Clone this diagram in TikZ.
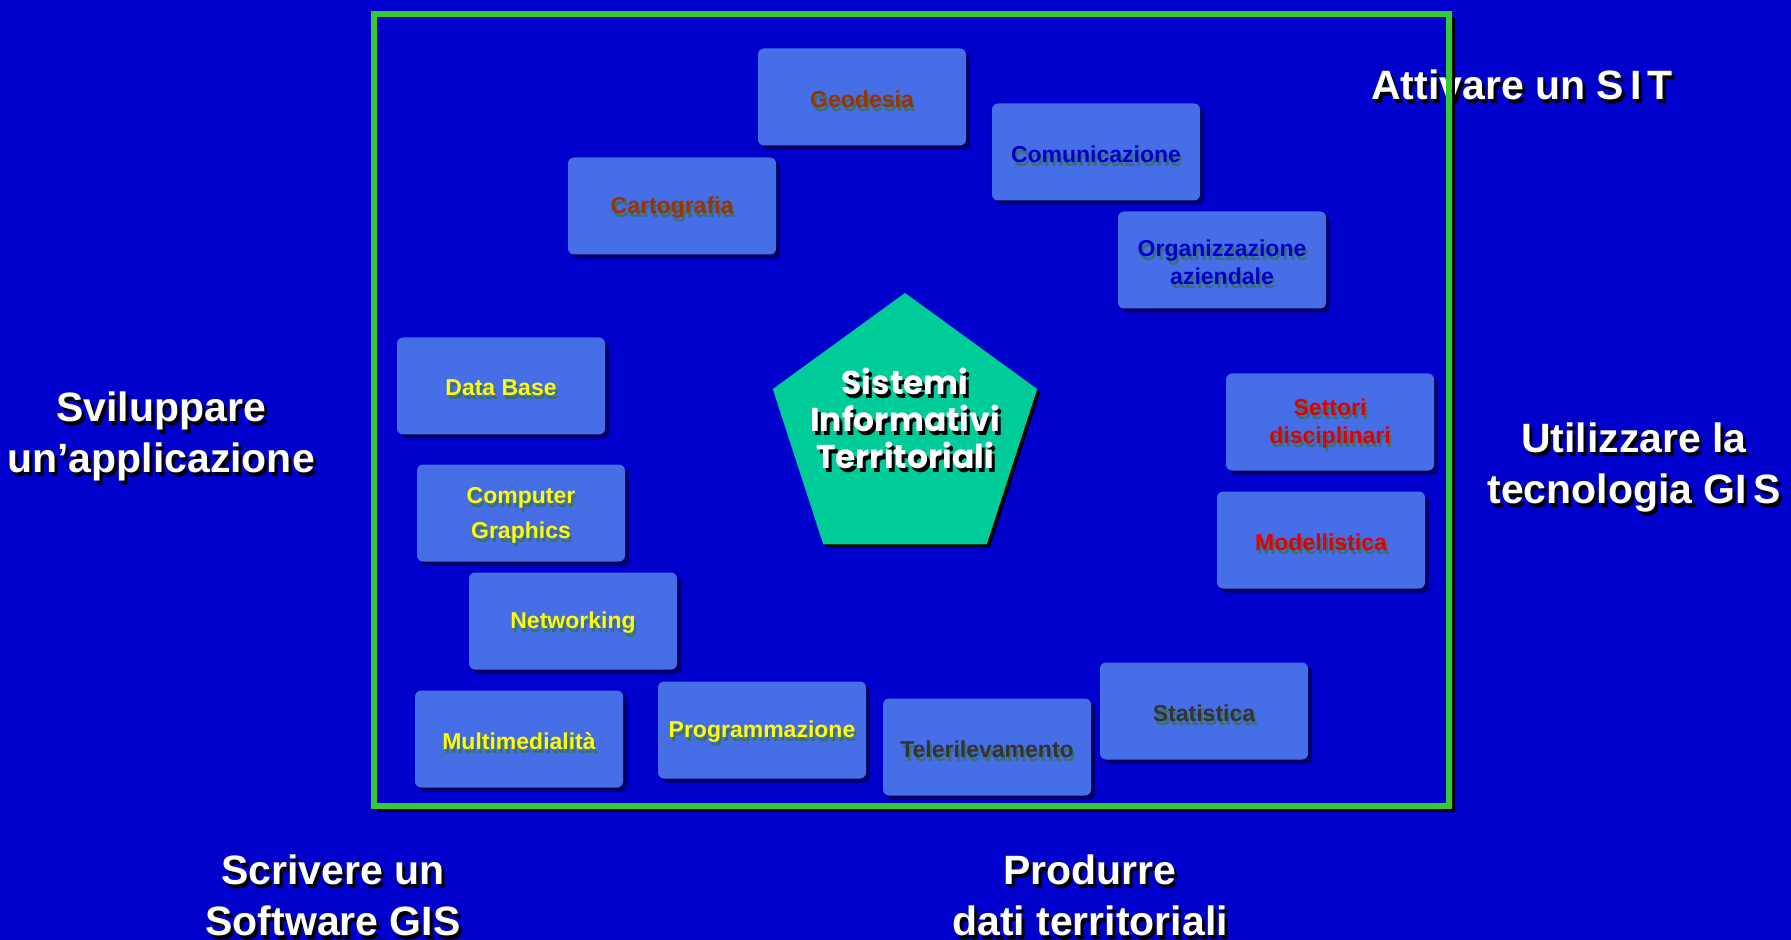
\documentclass[tikz,border=0pt]{standalone}
\usepackage{fontspec}
\setmainfont{Liberation Sans}
\newfontfamily\comicfont{Poppins}
\usepackage{tikz}
\usetikzlibrary{positioning,shapes.geometric,shadows}

\definecolor{bgblue}{RGB}{0,0,204}
\definecolor{boxblue}{RGB}{70,110,230}
\definecolor{boxshadow}{RGB}{0,0,100}
\definecolor{framegreen}{RGB}{51,204,51}
\definecolor{sitgreen}{RGB}{0,204,153}
\definecolor{txtshadow}{RGB}{60,110,110}
\definecolor{browntxt}{RGB}{153,51,0}
\definecolor{navytxt}{RGB}{0,0,200}
\definecolor{redtxt}{RGB}{225,0,0}
\definecolor{yellowtxt}{RGB}{255,255,0}
\definecolor{graytxt}{RGB}{51,51,51}

\newcommand{\boxtxt}[2]{\leavevmode\raisebox{-2pt}[\height][\depth]{\rlap{\kern1pt\raisebox{-2pt}{\textcolor{txtshadow}{#2}}}\textcolor{#1}{#2}}}
\newcommand{\bigtxt}[1]{\leavevmode\rlap{\kern1.5pt\raisebox{-2pt}{\textcolor{black}{#1}}}\textcolor{white}{#1}}

\begin{document}
\begin{tikzpicture}[x=0.5pt, y=-0.5pt,
    box/.style={rectangle, rounded corners=3pt, fill=boxblue, minimum width=104pt,
        minimum height=48.5pt, align=center, font=\fontsize{11.5}{14}\selectfont\bfseries,
        drop shadow={shadow xshift=2pt, shadow yshift=-2pt, fill=boxshadow, opacity=1}},
    outer/.style={align=center, font=\fontsize{20.5}{25.5}\selectfont\bfseries}]
    \useasboundingbox (0,0) rectangle (1791,940);
    \fill[bgblue] (0,0) rectangle (1791,940);

    \node[outer] (attiva) at (1522,87) {\bigtxt{Attivare un S\kern3pt I\kern3pt T}};
    \node[outer] (utilizza) at (1634,469) {\bigtxt{Utilizzare la}\\\bigtxt{tecnologia GI\kern3pt S}};
    \node[outer] (sviluppa) at (161,438) {\bigtxt{Sviluppare}\\\bigtxt{un’applicazione}};
    \node[outer] (scrivi) at (333,897) {\bigtxt{Scrivere un}\\\bigtxt{Software GIS}};
    \node[outer] (produci) at (1090,897) {\bigtxt{Produrre}\\\bigtxt{dati territoriali}};

    \draw[black, line width=3pt] (1452,17) -- (1452,809) -- (377,809);
    \draw[framegreen, line width=3pt] (374,14) rectangle (1449,806);

    \node[box] (geo) at (862,97) {\boxtxt{browntxt}{Geodesia}};
    \node[box] (carto) at (672,206) {\boxtxt{browntxt}{Cartografia}};
    \node[box] (comu) at (1096,152) {\boxtxt{navytxt}{Comunicazione}};
    \node[box] (org) at (1222,260) {\boxtxt{navytxt}{Organizzazione}\\\boxtxt{navytxt}{aziendale}};
    \node[box] (sett) at (1330,422) {\boxtxt{redtxt}{Settori}\\\boxtxt{redtxt}{disciplinari}};
    \node[box] (mod) at (1321,540) {\boxtxt{redtxt}{Modellistica}};
    \node[box] (db) at (501,386) {\boxtxt{yellowtxt}{Data Base}};
    \node[box] (cg) at (521,513) {\boxtxt{yellowtxt}{Computer}\\[3.5pt]\boxtxt{yellowtxt}{Graphics}};
    \node[box] (net) at (573,621) {\boxtxt{yellowtxt}{Networking}};
    \node[box] (multi) at (519,739) {\boxtxt{yellowtxt}{Multimedialità}};
    \node[box] (prog) at (762,730) {\boxtxt{yellowtxt}{Programmazione}};
    \node[box] (tele) at (987,747) {\boxtxt{graytxt}{Telerilevamento}};
    \node[box] (stat) at (1204,711) {\boxtxt{graytxt}{Statistica}};

    \node[regular polygon, regular polygon sides=5, minimum size=139pt, inner sep=0pt,
        fill=sitgreen, drop shadow={shadow xshift=1.5pt, shadow yshift=-1.5pt, fill=black, opacity=1}]
        (sit) at (905,432) {};
    \node[align=center, font=\comicfont\bfseries\fontsize{16.5}{18.5}\selectfont]
        (sittxt) at (905,420) {\bigtxt{Sistemi}\\\bigtxt{Informativi}\\\bigtxt{Territoriali}};
\end{tikzpicture}
\end{document}
